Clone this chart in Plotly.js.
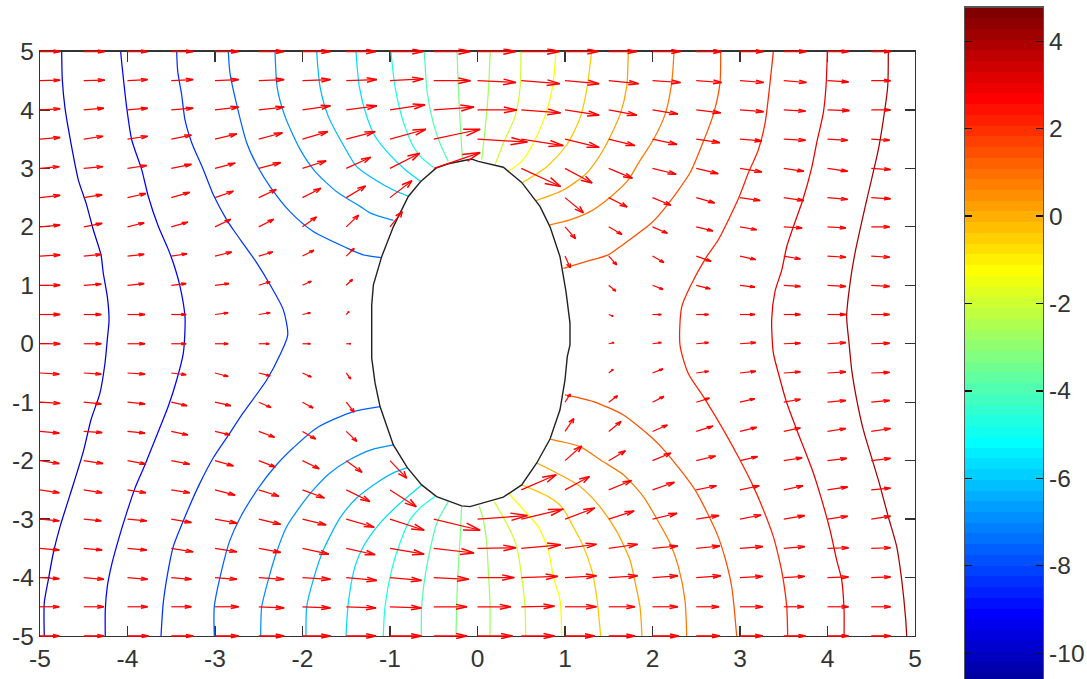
<!DOCTYPE html>
<html>
<head>
<meta charset="utf-8">
<script src="https://cdn.plot.ly/plotly-3.0.1.min.js"></script>
<style>html,body{margin:0;padding:0;background:#fff;overflow:hidden}</style>
</head>
<body>
<div id="chart" style="width:1087px;height:679px"></div>
<script>
// ---------- tick labels ----------
const mainTicks = [-5,-4,-3,-2,-1,0,1,2,3,4,5];
const mainTickText = ["-5","-4","-3","-2","-1","0","1","2","3","4","5"];
const barTicks = [-10,-8,-6,-4,-2,0,2,4];
const barTickText = ["-10","-8","-6","-4","-2","0","2","4"];

// ---------- quiver grid ----------
const gridX = [-5,-4.5,-4,-3.5,-3,-2.5,-2,-1.5,-1,-0.5,0,0.5,1,1.5,2,2.5,3,3.5,4,4.5,5];
const gridY = [5,4.5,4,3.5,3,2.5,2,1.5,1,0.5,0,-0.5,-1,-1.5,-2,-2.5,-3,-3.5,-4,-4.5,-5];
const n = null;
const quiverU = [
[.23,.24,.23,.25,.27,.29,.32,.34,.38,.42,.44,.44,.38,.32,.32,.29,.27,.26,.24,.22,.22],
[.23,.24,.23,.25,.27,.29,.32,.35,.38,.42,.44,.44,.39,.34,.32,.29,.27,.26,.24,.22,.22],
[.23,.23,.23,.25,.27,.29,.32,.35,.40,.46,.45,.45,.39,.32,.29,.28,.27,.25,.25,.22,.22],
[.23,.22,.23,.23,.25,.27,.29,.33,.41,.53,.57,.48,.39,.30,.28,.27,.25,.25,.23,.21,.22],
[.22,.22,.22,.23,.23,.25,.27,.28,.34,.53,n,.45,.31,.27,.27,.25,.25,.23,.23,.22,.22],
[.23,.21,.21,.21,.21,.20,.21,.22,.25,n,n,n,.21,.21,.21,.21,.23,.23,.23,.22,.22],
[.23,.21,.19,.19,.18,.17,.16,.14,.14,n,n,n,.12,.15,.17,.19,.19,.21,.21,.21,.21],
[.23,.20,.19,.18,.19,.16,.13,.09,n,n,n,n,.06,.09,.13,.17,.18,.19,.21,.21,.21],
[.23,.20,.19,.17,.16,.13,.10,.07,n,n,n,n,n,.08,.12,.16,.17,.19,.21,.21,.21],
[.23,.20,.20,.17,.15,.13,.09,.03,n,n,n,n,n,.05,.10,.14,.17,.19,.21,.21,.21],
[.23,.20,.20,.17,.15,.12,.09,.05,n,n,n,n,n,.06,.10,.14,.18,.19,.21,.21,.21],
[.22,.20,.20,.17,.15,.13,.10,.05,n,n,n,n,n,.05,.12,.14,.18,.19,.21,.21,.21],
[.23,.20,.20,.18,.18,.14,.12,.09,n,n,n,n,.06,.10,.13,.15,.17,.19,.21,.21,.21],
[.22,.21,.20,.19,.17,.18,.15,.12,n,n,n,n,.10,.14,.17,.19,.19,.19,.21,.22,.22],
[.22,.22,.21,.21,.21,.19,.19,.18,.19,n,n,n,.19,.19,.21,.22,.20,.21,.22,.22,.22],
[.22,.21,.21,.21,.23,.23,.25,.27,.30,n,n,.40,.28,.26,.25,.23,.22,.22,.23,.22,.22],
[.22,.20,.22,.23,.25,.25,.27,.32,.39,.53,.57,.48,.34,.29,.28,.26,.24,.24,.23,.22,.22],
[.22,.21,.22,.25,.25,.25,.30,.33,.39,.46,.44,.45,.36,.33,.29,.27,.26,.24,.24,.22,.22],
[.22,.23,.23,.23,.25,.29,.32,.35,.36,.40,.42,.42,.36,.33,.29,.28,.26,.24,.24,.22,.22],
[.22,.23,.23,.23,.27,.29,.32,.34,.36,.38,.38,.38,.36,.30,.29,.26,.26,.23,.24,.22,.22],
[.22,.23,.24,.25,.27,.29,.32,.34,.36,.38,.40,.38,.34,.30,.30,.27,.26,.25,.24,.22,.22]
];
const quiverV = [
[0,0,0,0,0,0,0,0,0,0,0,0,0,0,0,0,0,0,0,0,0],
[.01,.01,.02,.02,.02,.02,.02,.02,.03,0,-.03,-.05,-.05,-.05,-.03,-.03,-.03,-.03,-.02,0,0],
[.02,.03,.03,.03,.05,.05,.07,.07,.09,.05,0,-.05,-.09,-.09,-.07,-.05,-.03,-.02,-.01,0,0],
[.03,.05,.05,.07,.09,.11,.13,.13,.17,.17,-.05,-.11,-.14,-.11,-.09,-.06,-.03,-.02,-.02,-.02,0],
[.03,.03,.05,.07,.09,.10,.13,.19,.26,.27,n,-.31,-.25,-.17,-.10,-.09,-.06,-.05,-.05,-.02,0],
[.04,.05,.07,.09,.11,.14,.16,.20,.29,n,n,n,-.26,-.16,-.13,-.09,-.05,-.05,-.03,-.02,0],
[.03,.06,.07,.08,.13,.13,.17,.20,.26,n,n,n,-.20,-.13,-.11,-.07,-.05,-.02,-.02,0,0],
[.02,.03,.03,.04,.07,.07,.10,.13,n,n,n,n,-.20,-.15,-.11,-.09,-.06,-.05,-.02,-.02,0],
[0,.02,.03,.03,.03,.06,.07,.10,n,n,n,n,n,-.10,-.07,-.06,-.03,-.02,-.02,-.02,0],
[0,0,0,0,.03,.03,.03,.05,n,n,n,n,n,-.03,0,0,0,0,0,0,0],
[0,0,0,0,0,0,0,0,n,n,n,n,n,.02,.02,.02,.02,.01,.02,.01,.01],
[-.02,-.02,-.02,-.03,-.06,-.05,-.07,-.10,n,n,n,n,n,.06,.07,.03,.03,.02,.02,.01,.01],
[-.02,-.03,-.03,-.06,-.06,-.09,-.10,-.17,n,n,n,n,.14,.11,.10,.07,.06,.05,.03,.03,.03],
[-.03,-.02,-.03,-.06,-.06,-.10,-.13,-.17,n,n,n,n,.22,.17,.11,.09,.07,.06,.05,.05,.03],
[-.05,-.05,-.06,-.06,-.09,-.11,-.14,-.20,-.30,n,n,n,.25,.17,.13,.08,.07,.05,.04,.04,.03],
[-.05,-.05,-.05,-.05,-.09,-.11,-.14,-.20,-.29,n,n,.26,.23,.16,.13,.07,.07,.07,.05,.03,.03],
[-.03,-.03,-.03,-.06,-.07,-.09,-.10,-.14,-.19,-.19,.06,.17,.19,.14,.10,.06,.07,.06,.05,.05,.03],
[-.03,-.03,-.03,-.06,-.06,-.07,-.10,-.11,-.10,-.08,.01,.06,.07,.07,.04,.04,.03,.03,.01,.01,0],
[-.02,-.03,-.03,-.03,-.03,-.03,-.03,-.05,-.05,-.03,0,.02,.03,.03,.03,.03,.02,.02,.01,.01,0],
[0,0,0,0,0,-.02,-.02,-.02,-.02,0,0,.01,0,0,0,0,0,0,0,0,0],
[0,0,0,0,0,0,0,0,0,0,0,0,0,0,0,0,0,0,0,0,0]
];

// ---------- obstacle outline ----------
const outlineX = [-.066,.009,.295,.505,.714,.829,.943,1.011,1.057,1.057,1.026,1.0,.943,.829,.677,.505,.295,-.086,-.181,-.467,-.638,-.802,-.962,-1.114,-1.171,-1.209,-1.209,-1.19,-1.095,-.962,-.791,-.649,-.474,-.334,-.066];
const outlineY = [3.16,3.12,3.02,2.76,2.35,2.0,1.49,.895,.353,-.02,-.22,-.62,-1.13,-1.63,-2.04,-2.415,-2.625,-2.786,-2.774,-2.615,-2.415,-2.12,-1.73,-1.075,-.67,-.246,.666,1.008,1.49,2.0,2.52,2.775,3.005,3.08,3.16];

// ---------- contour lines, left to right (null splits upper and lower branches) ----------
const c01x = [-4.752,-4.745,-4.714,-4.646,-4.562,-4.474,-4.391,-4.303,-4.277,-4.231,-4.211,-4.231,-4.257,-4.314,-4.417,-4.505,-4.657,-4.771,-4.848,-4.905,-4.951,-4.951];
const c01y = [5,4.517,4.03,3.43,2.805,2.41,1.95,1.52,1.21,.81,.41,.07,-.33,-.84,-1.30,-1.845,-2.586,-3.13,-3.58,-4.04,-4.43,-5];
const c02x = [-4.078,-4.066,-4.009,-3.952,-3.838,-3.762,-3.648,-3.541,-3.477,-3.4,-3.343,-3.343,-3.362,-3.438,-3.534,-3.648,-3.8,-3.914,-4.009,-4.105,-4.181,-4.231,-4.254,-4.254];
const c02y = [5,4.81,4.04,3.49,2.98,2.52,2.01,1.64,1.385,.98,.465,.24,-.16,-.62,-1.07,-1.50,-2.07,-2.47,-2.89,-3.36,-3.78,-4.155,-4.555,-5];
const c03x = [-3.438,-3.426,-3.381,-3.343,-3.266,-3.134,-3.019,-2.866,-2.791,-2.523,-2.371,-2.219,-2.169,-2.257,-2.409,-2.677,-2.829,-3.019,-3.171,-3.343,-3.477,-3.534,-3.591,-3.617];
const c03y = [5,4.66,4.26,3.83,3.44,2.98,2.55,2.12,1.95,1.385,1.01,.58,.15,-.19,-.62,-1.18,-1.525,-1.95,-2.38,-2.96,-3.47,-3.87,-4.43,-5];
const c04x = [-2.848,-2.829,-2.752,-2.638,-2.505,-2.371,-2.143,-1.877,-1.495,-1.305,-1.095,n,-3.008,-3.008,-2.923,-2.829,-2.714,-2.505,-2.314,-2.105,-1.838,-1.419,-1.114];
const c04y = [5,4.635,4.09,3.44,3.01,2.69,2.26,1.92,1.64,1.52,1.475,n,-5,-4.5,-3.87,-3.36,-2.98,-2.47,-2.10,-1.78,-1.44,-1.16,-1.075];
const c05x = [-2.314,-2.288,-2.2,-2.029,-1.857,-1.609,-1.343,-1.229,-.962,n,-2.478,-2.466,-2.391,-2.295,-2.181,-2.029,-1.877,-1.686,-1.457,-1.209,-.962];
const c05y = [5,4.375,3.89,3.33,2.95,2.60,2.35,2.24,2.11,n,-5,-4.5,-4.04,-3.56,-3.13,-2.79,-2.50,-2.21,-1.98,-1.81,-1.73];
const c06x = [-1.838,-1.8,-1.705,-1.534,-1.381,-1.171,-.962,-.783,n,-1.96,-1.952,-1.877,-1.762,-1.571,-1.381,-1.134,-.962,-.802];
const c06y = [5,4.4,3.89,3.40,3.03,2.805,2.63,2.52,n,-5,-4.5,-4.04,-3.53,-2.98,-2.64,-2.36,-2.21,-2.12];
const c07x = [-1.389,-1.351,-1.266,-1.171,-1.019,-.829,-.649,n,-1.503,-1.477,-1.4,-1.305,-1.114,-.886,-.638];
const c07y = [5,4.4,3.89,3.55,3.26,2.98,2.775,n,-5,-4.44,-3.81,-3.47,-3.07,-2.73,-2.415];
const c08x = [-.989,-.943,-.848,-.734,-.638,-.505,n,-1.077,-1.057,-.981,-.886,-.771,-.657,-.486];
const c08y = [5,4.4,3.80,3.375,3.18,3.02,n,-5,-4.5,-3.87,-3.41,-3.01,-2.81,-2.615];
const c09x = [-.608,-.574,-.505,-.429,-.334,n,-.642,-.638,-.6,-.543,-.466,-.334];
const c09y = [5,4.29,3.775,3.43,3.12,n,-5,-4.5,-3.985,-3.53,-3.07,-2.70];
const c10x = [-.234,-.219,-.2,-.181,-.174,n,-.246,-.238,-.226,-.2,-.181];
const c10y = [5,4.375,3.83,3.375,3.18,n,-5,-4.5,-3.985,-3.36,-2.79];
const c11x = [.146,.123,.086,.059,.048,n,.143,.143,.123,.105,.066,.017];
const c11y = [5,4.29,3.66,3.29,3.15,n,-5,-4.44,-3.87,-3.41,-3.01,-2.77];
const c12x = [.497,.486,.429,.295,.2,n,.551,.543,.505,.448,.371,.192];
const c12y = [5,4.375,3.89,3.43,3.06,n,-5,-4.5,-3.985,-3.47,-3.185,-2.70];
const c13x = [.897,.859,.771,.638,.505,.352,n,.962,.943,.866,.809,.695,.562,.363];
const c13y = [5,4.4,3.89,3.43,3.12,2.95,n,-5,-4.38,-3.985,-3.53,-3.13,-2.90,-2.57];
const c14x = [1.305,1.248,1.171,1.019,.791,.517,n,1.408,1.362,1.305,1.21,1.095,.962,.809,.505];
const c14y = [5,4.345,3.86,3.40,3.03,2.76,n,-5,-4.33,-3.87,-3.47,-3.13,-2.79,-2.615,-2.415];
const c15x = [1.723,1.705,1.629,1.438,1.248,.981,.669,n,1.88,1.857,1.8,1.743,1.591,1.4,1.171,.943,.677];
const c15y = [5,4.40,3.92,3.32,2.92,2.63,2.45,n,-5,-4.5,-4.07,-3.70,-3.21,-2.79,-2.44,-2.24,-2.04];
const c16x = [2.246,2.219,2.143,2.009,1.838,1.723,1.477,1.286,1.057,.829,n,2.391,2.371,2.295,2.2,2.066,1.895,1.667,1.438,1.171,.943,.829];
const c16y = [5,4.46,3.92,3.49,3.09,2.805,2.46,2.26,2.12,2.035,n,-5,-4.385,-3.81,-3.41,-3.04,-2.615,-2.24,-2.02,-1.76,-1.67,-1.63];
const c17x = [2.779,2.771,2.695,2.581,2.429,2.143,1.991,1.629,1.495,1.248,.981,n,2.962,2.905,2.829,2.734,2.486,2.162,2.009,1.667,1.323,1.0];
const c17y = [5,4.46,3.92,3.46,2.925,2.325,2.07,1.66,1.52,1.41,1.29,n,-5,-4.155,-3.665,-3.24,-2.50,-1.87,-1.63,-1.22,-.99,-.875];
const c18x = [3.381,3.343,3.286,3.21,3.095,2.981,2.752,2.619,2.448,2.334,2.314,2.409,2.581,2.809,3.0,3.152,3.267,3.381,3.457,3.488,3.534,3.545];
const c18y = [5,4.46,3.77,3.32,2.92,2.48,1.78,1.49,1.03,.63,-.02,-.51,-.905,-1.47,-1.99,-2.44,-2.84,-3.30,-3.75,-3.98,-4.50,-5];
const c19x = [3.998,3.983,3.952,3.877,3.819,3.717,3.609,3.534,3.477,3.4,3.362,3.381,3.438,3.534,3.648,3.838,3.934,4.029,4.105,4.162,4.189,4.189];
const c19y = [5,4.40,3.95,3.44,3.01,2.46,2.0,1.66,1.26,.895,.41,-.157,-.50,-1.01,-1.47,-2.21,-2.67,-3.19,-3.70,-4.04,-4.555,-5];
const c20x = [4.695,4.688,4.638,4.581,4.467,4.371,4.314,4.257,4.219,4.246,4.277,4.334,4.409,4.581,4.695,4.791,4.848,4.894,4.905];
const c20y = [5,4.40,3.83,3.32,2.58,1.95,1.55,1.03,.465,.015,-.45,-.96,-1.47,-2.33,-2.96,-3.47,-4.04,-4.72,-5];
const contourColors = ["#0000D0","#0000FF","#0030FF","#0060FF","#0090FF","#00B8FF","#00E0FF","#20FFE0","#50FFB0","#80FF80","#A0FF60","#CCFF30","#FFFF00","#FFC800","#FFA000","#FF7800","#FF5000","#FF2000","#E80000","#A80000"];
const contourXs = [c01x,c02x,c03x,c04x,c05x,c06x,c07x,c08x,c09x,c10x,c11x,c12x,c13x,c14x,c15x,c16x,c17x,c18x,c19x,c20x];
const contourYs = [c01y,c02y,c03y,c04y,c05y,c06y,c07y,c08y,c09y,c10y,c11y,c12y,c13y,c14y,c15y,c16y,c17y,c18y,c19y,c20y];

// ---------- colour bar: the 64 steps of the jet map ----------
const jetRed =   [0,0,0,0,0,0,0,0,0,0,0,0,0,0,0,0,0,0,0,0,0,0,0,0,.0625,.125,.1875,.25,.3125,.375,.4375,.5,.5625,.625,.6875,.75,.8125,.875,.9375,1,1,1,1,1,1,1,1,1,1,1,1,1,1,1,1,1,.9375,.875,.8125,.75,.6875,.625,.5625,.5];
const jetGreen = [0,0,0,0,0,0,0,0,.0625,.125,.1875,.25,.3125,.375,.4375,.5,.5625,.625,.6875,.75,.8125,.875,.9375,1,1,1,1,1,1,1,1,1,1,1,1,1,1,1,1,1,.9375,.875,.8125,.75,.6875,.625,.5625,.5,.4375,.375,.3125,.25,.1875,.125,.0625,0,0,0,0,0,0,0,0,0];
const jetBlue =  [.5625,.625,.6875,.75,.8125,.875,.9375,1,1,1,1,1,1,1,1,1,1,1,1,1,1,1,1,1,.9375,.875,.8125,.75,.6875,.625,.5625,.5,.4375,.375,.3125,.25,.1875,.125,.0625,0,0,0,0,0,0,0,0,0,0,0,0,0,0,0,0,0,0,0,0,0,0,0,0,0];
const barTop = 4.77, barStep = 0.2457, barVisibleLow = -10.59;

// ---------- build ----------
const inkAxis = "#333333";
const textFont = {family:"Liberation Sans, Arial, sans-serif", size:24.5, color:"#333333"};
const W = 1087, H = 679;
const px = {l:40, r:915, t:51.5, b:636};
const edgePad = 3; // px of extra room so the rows on the frame can sit on top of it
const unitsPerPx = 10 / (px.b - px.t);

const shaftX = [], shaftY = [], headX = [], headY = [], edgeX = [], edgeY = [];
const alpha = 0.33, beta = 0.33;
gridY.forEach((y0, r) => gridX.forEach((x0, c) => {
  const u = quiverU[r][c], v = quiverV[r][c];
  if (u === null || v === null) return;
  const tx = x0 + u, ty = y0 + v;
  const isEdge = r === 0 || r === gridY.length - 1;
  if (isEdge && c < gridX.length - 1) {
    edgeX.push(x0, tx, null, tx - alpha*(u + beta*v), tx, tx - alpha*(u - beta*v), null);
    edgeY.push(y0, ty, null, ty - alpha*(v - beta*u), ty, ty - alpha*(v + beta*u), null);
  } else {
    shaftX.push(x0, tx, null);
    shaftY.push(y0, ty, null);
    headX.push(tx - alpha*(u + beta*v), tx, tx - alpha*(u - beta*v), null);
    headY.push(ty - alpha*(v - beta*u), ty, ty - alpha*(v + beta*u), null);
  }
}));

const traces = [];
contourXs.forEach((cx, i) => traces.push({
  type:"scatter", mode:"lines", x:cx, y:contourYs[i], hoverinfo:"skip", connectgaps:false,
  line:{color:contourColors[i], width:1.25, shape:"spline", smoothing:0.7}, xaxis:"x", yaxis:"y"
}));
traces.push({type:"scatter", mode:"lines", x:outlineX, y:outlineY, hoverinfo:"skip",
  line:{color:"#222222", width:1.4}, xaxis:"x", yaxis:"y"});
traces.push({type:"scatter", mode:"lines", x:shaftX, y:shaftY, hoverinfo:"skip", connectgaps:false,
  line:{color:"#ff0000", width:1.2}, xaxis:"x", yaxis:"y"});
traces.push({type:"scatter", mode:"lines", x:headX, y:headY, hoverinfo:"skip", connectgaps:false,
  line:{color:"#ff0000", width:1.5}, xaxis:"x", yaxis:"y"});
traces.push({type:"scatter", mode:"lines", x:edgeX, y:edgeY, hoverinfo:"skip", connectgaps:false,
  line:{color:"#ff0000", width:1.6}, xaxis:"x3", yaxis:"y3"});

const bandEdges = jetRed.map((_, i) => barTop - (jetRed.length - i) * barStep);
bandEdges.push(barTop);
const barScale = [];
jetRed.forEach((r, i) => {
  const col = `rgb(${Math.round(r*255)},${Math.round(jetGreen[i]*255)},${Math.round(jetBlue[i]*255)})`;
  barScale.push([i/jetRed.length, col], [(i+1)/jetRed.length, col]);
});
traces.push({type:"heatmap", x:[0,1], y:bandEdges, z:jetRed.map((_, i) => [i]),
  zmin:-0.5, zmax:jetRed.length-0.5, colorscale:barScale, showscale:false, hoverinfo:"skip",
  xaxis:"x2", yaxis:"y2"});

const layout = {
  width:W, height:H, margin:{l:0,r:0,t:0,b:0}, paper_bgcolor:"#ffffff", plot_bgcolor:"rgba(0,0,0,0)",
  showlegend:false, font:textFont,
  xaxis:{domain:[px.l/W, px.r/W], range:[-5,5], tickmode:"array", tickvals:mainTicks, ticktext:mainTickText,
    ticks:"inside", ticklen:10, tickwidth:1.2, tickcolor:inkAxis, showline:true, linecolor:inkAxis, linewidth:1.3,
    mirror:"ticks", showgrid:false, zeroline:false, layer:"below traces", tickfont:textFont, anchor:"y", fixedrange:true},
  yaxis:{domain:[(H-px.b)/H, (H-px.t)/H], range:[-5,5], tickmode:"array", tickvals:mainTicks, ticktext:mainTickText,
    ticks:"inside", ticklen:10, tickwidth:1.2, tickcolor:inkAxis, showline:true, linecolor:inkAxis, linewidth:1.3,
    mirror:"ticks", showgrid:false, zeroline:false, layer:"below traces", tickfont:textFont, anchor:"x", fixedrange:true},
  xaxis3:{domain:[px.l/W, px.r/W], range:[-5,5], visible:false, showgrid:false, zeroline:false, anchor:"y3", fixedrange:true},
  yaxis3:{domain:[(H-px.b-edgePad)/H, (H-px.t+edgePad)/H], range:[-5-edgePad*unitsPerPx, 5+edgePad*unitsPerPx],
    visible:false, showgrid:false, zeroline:false, anchor:"x3", fixedrange:true},
  xaxis2:{domain:[965/W, 1043/W], range:[0,1], showticklabels:false, ticks:"", showline:true, linecolor:"#555555", linewidth:1.2,
    mirror:true, showgrid:false, zeroline:false, anchor:"y2", fixedrange:true},
  yaxis2:{domain:[0, (H-7.5)/H], range:[barVisibleLow, barTop], side:"right", tickmode:"array", tickvals:barTicks, ticktext:barTickText,
    ticks:"inside", ticklen:7, tickwidth:1.2, tickcolor:"#111111", showline:true, linecolor:"#555555", linewidth:1.2,
    mirror:"ticks", showgrid:false, zeroline:false, layer:"above traces", tickfont:textFont, anchor:"x2", fixedrange:true}
};
Plotly.newPlot("chart", traces, layout, {displayModeBar:false, staticPlot:true});
</script>
</body>
</html>
